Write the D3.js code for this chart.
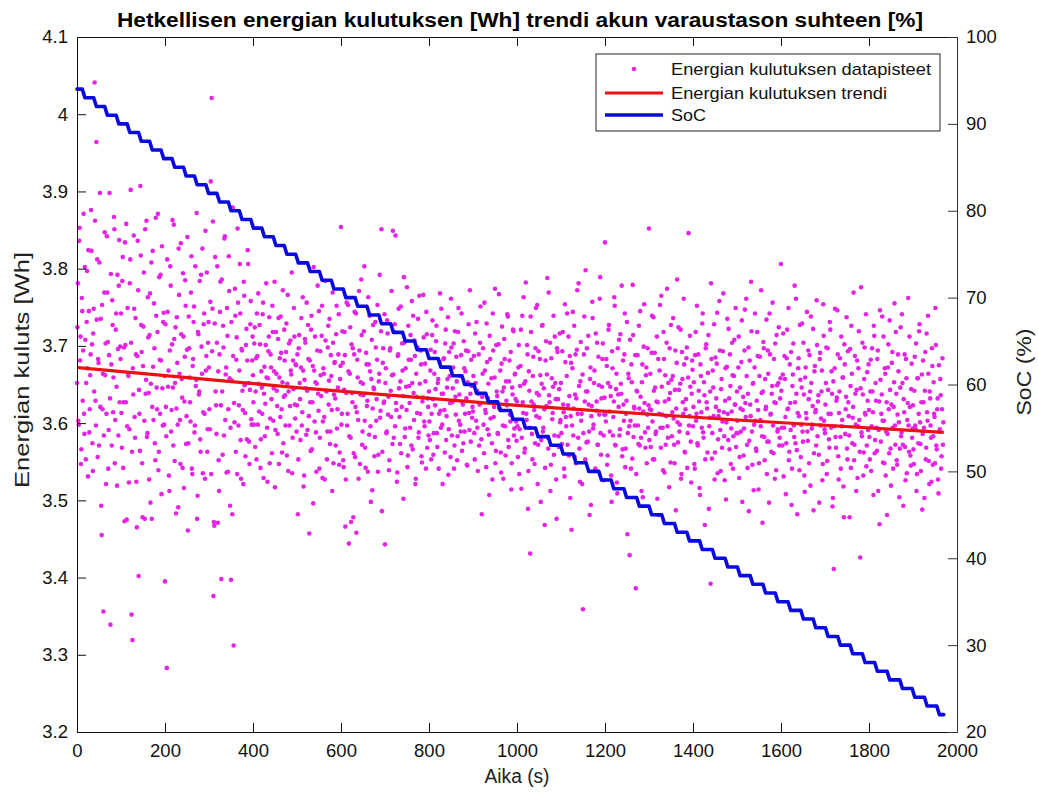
<!DOCTYPE html>
<html><head><meta charset="utf-8">
<script src="https://cdn.jsdelivr.net/npm/d3@7"></script>
<style>
html,body{margin:0;padding:0;background:#fff;}
svg{display:block;font-family:"Liberation Sans",Arial,Helvetica,sans-serif;}
</style></head>
<body>
<svg id="chart" width="1038" height="794"></svg>
<script>
// ---------- DATA ----------
const titleText = "Hetkellisen energian kulutuksen [Wh] trendi akun varaustason suhteen [%]";
const xLabel = "Aika (s)";
const yLeftLabel = "Energian kuluts [Wh]";
const yRightLabel = "SoC (%)";
const legendLabels = ["Energian kulutuksen datapisteet", "Energian kulutuksen trendi", "SoC"];
const xTicks = [0,200,400,600,800,1000,1200,1400,1600,1800,2000];
const yLeftTicks = [3.2,3.3,3.4,3.5,3.6,3.7,3.8,3.9,4.0,4.1];
const yRightTicks = [20,30,40,50,60,70,80,90,100];

// energy samples (Wh): even seconds (t = 0,2,4,...) and odd seconds (t = 1,3,5,...)
const energyEvenSeconds = [
3.652,3.781,3.598,3.853,3.712,3.566,3.745,3.694,3.612,3.802,3.553,3.731,3.671,3.824,3.588,3.662,3.876,3.702,3.538,3.748,
4.041,3.629,3.964,3.812,3.683,3.571,3.898,3.735,3.455,3.618,3.356,3.769,3.662,3.521,3.842,3.705,3.591,3.898,3.339,3.676,
3.759,3.614,3.867,3.548,3.721,3.647,3.792,3.584,3.837,3.699,
3.742,3.568,3.815,3.627,3.473,3.701,3.858,3.596,3.664,3.523,3.781,3.902,3.352,3.319,3.637,3.748,3.581,3.689,3.465,3.836,
3.402,3.612,3.907,3.727,3.548,3.674,3.795,3.476,3.638,3.862,3.587,3.711,3.527,3.768,3.651,3.476,3.823,3.604,3.697,3.552,
3.739,3.618,3.871,3.563,3.682,3.792,3.508,3.645,3.731,3.598,
3.395,3.621,3.283,3.744,3.668,3.512,3.803,3.589,3.702,3.646,3.857,3.551,3.724,3.619,3.678,3.491,3.766,3.604,3.833,3.657,
3.542,3.712,3.628,3.785,3.573,3.695,3.461,3.738,3.659,3.602,3.816,3.534,3.683,3.751,3.597,3.648,3.872,3.506,3.715,3.641,
3.579,3.792,3.664,3.535,3.728,3.612,3.849,3.687,3.563,3.704,
3.672,3.592,3.913,4.021,3.748,3.376,3.467,3.815,3.623,3.704,3.471,3.552,3.689,3.783,3.398,3.641,3.726,3.584,3.842,3.663,
3.536,3.713,3.618,3.771,3.493,3.397,3.655,3.879,3.312,3.601,3.739,3.682,3.534,3.756,3.623,3.806,3.578,3.696,3.642,3.521,
3.765,3.613,3.701,3.579,3.824,3.652,3.547,3.728,3.605,3.681,
3.662,3.598,3.724,3.641,3.553,3.687,3.768,3.615,3.702,3.579,3.646,3.741,3.529,3.673,3.625,3.781,3.594,3.658,3.712,3.548,
3.689,3.631,3.752,3.603,3.667,3.517,3.718,3.642,3.586,3.736,3.659,3.608,3.691,3.562,3.772,3.634,3.681,3.597,3.729,3.651,
3.538,3.703,3.622,3.668,3.795,3.581,3.644,3.712,3.606,3.675,
3.623,3.482,3.697,3.652,3.578,3.736,3.614,3.668,3.532,3.709,3.645,3.756,3.591,3.683,3.457,3.627,3.721,3.566,3.674,3.802,
3.602,3.653,3.537,3.694,3.638,3.745,3.581,3.662,3.713,3.529,3.671,3.608,3.784,3.642,3.553,3.698,3.624,3.735,3.589,3.661,
3.512,3.704,3.637,3.679,3.571,3.752,3.618,3.689,3.546,3.657,
3.854,3.612,3.678,3.543,3.718,3.466,3.639,3.597,3.753,3.444,3.664,3.581,3.702,3.627,3.478,3.689,3.556,3.742,3.614,3.659,
3.528,3.694,3.637,3.786,3.572,3.651,3.719,3.603,3.542,3.676,3.629,3.763,3.585,3.667,3.498,3.708,3.619,3.646,3.557,3.731,
3.603,3.682,3.537,3.654,3.792,3.616,3.851,3.563,3.697,3.628,
3.443,3.671,3.589,3.716,3.634,3.552,3.697,3.608,3.662,3.849,3.581,3.728,3.843,3.617,3.536,3.689,3.645,3.573,3.751,3.621,
3.668,3.502,3.704,3.593,3.647,3.776,3.558,3.682,3.626,3.714,3.571,3.652,3.739,3.604,3.687,3.528,3.634,3.698,3.581,3.765,
3.612,3.676,3.549,3.633,3.711,3.596,3.654,3.744,3.568,3.621,
3.641,3.578,3.695,3.612,3.733,3.559,3.664,3.623,3.706,3.587,3.652,3.541,3.679,3.616,3.748,3.598,3.638,3.684,3.562,3.721,
3.609,3.657,3.533,3.692,3.626,3.761,3.584,3.645,3.703,3.571,3.634,3.686,3.552,3.718,3.603,3.661,3.589,3.742,3.627,3.574,
3.671,3.612,3.694,3.546,3.653,3.728,3.591,3.638,3.682,3.607,
3.615,3.687,3.553,3.652,3.731,3.594,3.638,3.571,3.704,3.626,3.482,3.664,3.598,3.756,3.617,3.543,3.679,3.632,3.585,3.713,
3.606,3.658,3.527,3.694,3.621,3.774,3.564,3.641,3.587,3.702,3.619,3.668,3.536,3.725,3.597,3.646,3.683,3.558,3.629,3.741,
3.578,3.654,3.611,3.692,3.548,3.637,3.719,3.593,3.664,3.602,
3.628,3.556,3.701,3.592,3.674,3.515,3.739,3.613,3.651,3.567,3.782,3.604,3.689,3.538,3.642,3.431,3.718,3.586,3.661,3.624,
3.547,3.697,3.609,3.753,3.572,3.636,3.683,3.498,3.651,3.727,3.594,3.618,3.542,3.706,3.663,3.581,3.769,3.627,3.512,3.684,
3.605,3.647,3.559,3.712,3.631,3.476,3.692,3.583,3.644,3.601,
3.652,3.573,3.718,3.614,3.531,3.679,3.596,3.742,3.623,3.558,3.687,3.609,3.462,3.671,3.584,3.726,3.637,3.548,3.695,3.612,
3.781,3.567,3.654,3.603,3.521,3.359,3.689,3.628,3.798,3.575,3.641,3.713,3.589,3.657,3.494,3.622,3.736,3.598,3.668,3.541,
3.616,3.704,3.572,3.649,3.761,3.587,3.632,3.683,3.526,3.611,
3.834,3.602,3.674,3.558,3.721,3.615,3.647,3.532,3.693,3.584,3.628,3.752,3.571,3.664,3.509,3.637,3.708,3.592,3.651,3.778,
3.566,3.624,3.689,3.543,3.612,3.731,3.587,3.658,3.429,3.603,3.676,3.554,3.714,3.621,3.597,3.386,3.642,3.688,3.573,3.619,
3.745,3.581,3.653,3.504,3.699,3.626,3.568,3.672,3.611,3.594,
3.852,3.618,3.569,3.691,3.602,3.737,3.553,3.646,3.589,3.712,3.627,3.481,3.668,3.594,3.765,3.611,3.539,3.683,3.628,3.572,
3.704,3.596,3.652,3.517,3.639,3.727,3.583,3.661,3.606,3.548,3.694,3.619,3.786,3.575,3.643,3.598,3.721,3.534,3.657,3.612,
3.676,3.562,3.631,3.698,3.587,3.846,3.609,3.647,3.523,3.681,
3.596,3.653,3.541,3.718,3.612,3.574,3.689,3.628,3.507,3.661,3.594,3.742,3.581,3.636,3.553,3.702,3.619,3.665,3.489,3.607,
3.392,3.683,3.587,3.646,3.728,3.562,3.621,3.677,3.535,3.609,3.758,3.591,3.644,3.568,3.693,3.614,3.526,3.671,3.601,3.735,
3.578,3.632,3.689,3.547,3.615,3.662,3.583,3.708,3.624,3.569,
3.641,3.587,3.712,3.556,3.619,3.679,3.498,3.634,3.593,3.747,3.608,3.661,3.542,3.698,3.577,3.624,3.783,3.589,3.651,3.513,
3.672,3.603,3.564,3.718,3.617,3.548,3.686,3.596,3.639,3.471,3.705,3.582,3.657,3.621,3.534,3.694,3.576,3.742,3.611,3.563,
3.648,3.597,3.683,3.528,3.626,3.714,3.589,3.652,3.571,3.632,
3.806,3.594,3.663,3.531,3.687,3.608,3.574,3.721,3.619,3.552,3.676,3.591,3.494,3.648,3.703,3.582,3.627,3.761,3.565,3.613,
3.684,3.539,3.656,3.598,3.729,3.576,3.637,3.511,3.672,3.606,3.589,3.694,3.548,3.641,3.738,3.593,3.622,3.487,3.667,3.614,
3.571,3.701,3.628,3.559,3.683,3.597,3.641,3.526,3.754,3.603,
3.587,3.652,3.534,3.697,3.612,3.568,3.721,3.594,3.638,3.503,3.411,3.671,3.582,3.629,3.746,3.557,3.613,3.684,3.541,3.596,
3.659,3.518,3.702,3.586,3.634,3.567,3.693,3.609,3.478,3.648,3.726,3.574,3.621,3.552,3.687,3.598,3.643,3.529,3.671,3.604,
3.426,3.776,3.583,3.637,3.562,3.698,3.611,3.544,3.666,3.591,
3.617,3.553,3.682,3.596,3.641,3.507,3.713,3.578,3.629,3.564,3.694,3.591,3.469,3.656,3.612,3.738,3.549,3.603,3.671,3.532,
3.627,3.586,3.702,3.561,3.643,3.519,3.678,3.594,3.621,3.755,3.572,3.638,3.546,3.689,3.601,3.567,3.724,3.588,3.652,3.493,
3.614,3.569,3.683,3.535,3.626,3.597,3.712,3.558,3.644,3.581,
3.623,3.547,3.686,3.592,3.512,3.658,3.574,3.719,3.601,3.538,3.663,3.586,3.627,3.503,3.692,3.568,3.614,3.739,3.551,3.641,
3.597,3.524,3.674,3.583,3.612,3.548,3.701,3.566,3.632,3.509,3.589,3.657,3.541,3.618,3.572
];
const energyOddSeconds = [
3.724,3.603,3.836,3.681,3.547,3.762,3.629,3.871,3.586,3.708,3.652,3.797,3.531,3.745,3.618,3.689,3.823,3.574,3.716,3.641,
3.862,3.597,3.734,3.556,3.678,3.808,3.621,3.493,3.753,3.664,3.584,3.847,3.703,3.612,3.769,3.541,3.688,3.632,3.793,3.571,
3.727,3.659,3.851,3.604,3.742,3.519,3.696,3.778,3.627,3.683,
3.613,3.784,3.542,3.698,3.834,3.627,3.475,3.749,3.661,3.592,3.812,3.704,3.563,3.671,3.843,3.608,3.736,3.524,3.687,3.772,
3.643,3.564,3.817,3.692,3.478,3.725,3.603,3.851,3.656,3.582,3.763,3.639,3.714,3.497,3.808,3.621,3.673,3.755,3.574,3.866,
3.646,3.718,3.539,3.789,3.612,3.681,3.829,3.597,3.743,3.661,
3.728,3.583,3.812,3.647,3.532,3.694,3.778,3.617,3.863,3.571,3.709,3.652,3.483,3.737,3.598,3.826,3.664,3.547,3.715,3.633,
3.794,3.516,3.686,3.752,3.609,3.841,3.574,3.697,3.627,3.769,3.541,3.674,3.731,3.588,3.803,3.656,3.476,3.718,3.637,3.784,
3.563,3.699,3.826,3.614,3.742,3.528,3.668,3.795,3.592,3.731,
3.618,3.757,3.534,3.693,3.861,3.472,3.729,3.641,3.586,3.803,3.667,3.512,3.744,3.623,3.786,3.559,3.698,3.839,3.604,3.672,
3.749,3.537,3.816,3.658,3.594,3.731,3.482,3.687,3.626,3.774,3.563,3.711,3.852,3.597,3.668,3.742,3.528,3.694,3.617,3.783,
3.649,3.557,3.722,3.681,3.806,3.576,3.643,3.758,3.598,3.712,
3.627,3.703,3.569,3.684,3.742,3.598,3.651,3.727,3.542,3.667,3.612,3.756,3.638,3.583,3.701,3.659,3.524,3.693,3.737,3.606,
3.672,3.561,3.718,3.645,3.783,3.591,3.664,3.622,3.709,3.547,3.684,3.738,3.618,3.653,3.574,3.721,3.636,3.692,3.558,3.766,
3.641,3.597,3.707,3.663,3.535,3.681,3.749,3.624,3.676,3.589,
3.689,3.553,3.714,3.631,3.672,3.597,3.763,3.518,3.656,3.704,3.585,3.642,3.727,3.609,3.681,3.564,3.739,3.627,3.496,3.668,
3.712,3.588,3.651,3.778,3.616,3.541,3.693,3.635,3.752,3.602,3.664,3.527,3.707,3.641,3.589,3.726,3.655,3.573,3.688,3.617,
3.769,3.548,3.678,3.632,3.715,3.593,3.646,3.741,3.562,3.674,
3.598,3.719,3.552,3.643,3.688,3.527,3.756,3.612,3.667,3.583,3.724,3.472,3.639,3.697,3.561,3.744,3.621,3.458,3.682,3.604,
3.771,3.547,3.653,3.714,3.589,3.636,3.803,3.568,3.691,3.622,3.537,3.676,3.739,3.596,3.657,3.513,3.727,3.644,3.582,3.698,
3.631,3.753,3.559,3.664,3.607,3.719,3.486,3.678,3.626,3.741,
3.652,3.587,3.733,3.611,3.539,3.694,3.642,3.771,3.573,3.663,3.718,3.596,3.626,3.524,3.687,3.748,3.608,3.654,3.561,3.703,
3.635,3.789,3.582,3.671,3.617,3.543,3.726,3.648,3.594,3.682,3.758,3.566,3.639,3.707,3.521,3.664,3.613,3.735,3.588,3.651,
3.694,3.557,3.628,3.766,3.602,3.677,3.541,3.715,3.632,3.584,
3.602,3.668,3.553,3.714,3.631,3.587,3.692,3.644,3.726,3.569,3.657,3.612,3.768,3.594,3.638,3.521,3.683,3.617,3.703,3.578,
3.646,3.737,3.592,3.661,3.556,3.698,3.627,3.672,3.541,3.719,3.611,3.654,3.583,3.749,3.637,3.598,3.688,3.564,3.624,3.706,
3.589,3.667,3.632,3.545,3.693,3.613,3.772,3.576,3.648,3.621,
3.661,3.587,3.716,3.603,3.642,3.538,3.689,3.624,3.751,3.579,3.634,3.697,3.561,3.668,3.613,3.729,3.592,3.651,3.507,3.683,
3.627,3.574,3.742,3.608,3.659,3.548,3.701,3.635,3.586,3.767,3.619,3.562,3.677,3.641,3.528,3.709,3.596,3.654,3.623,3.738,
3.569,3.681,3.602,3.514,3.646,3.721,3.584,3.663,3.631,3.577,
3.596,3.672,3.534,3.648,3.721,3.581,3.627,3.763,3.562,3.654,3.612,3.701,3.489,3.667,3.594,3.738,3.628,3.553,3.686,3.617,
3.574,3.749,3.639,3.521,3.693,3.607,3.662,3.578,3.726,3.589,3.645,3.468,3.681,3.622,3.788,3.567,3.636,3.704,3.546,3.658,
3.613,3.739,3.584,3.652,3.527,3.697,3.631,3.569,3.716,3.604,
3.587,3.693,3.624,3.541,3.754,3.608,3.661,3.572,3.712,3.635,3.503,3.678,3.597,3.744,3.619,3.556,3.689,3.632,3.772,3.581,
3.648,3.524,3.705,3.612,3.663,3.587,3.738,3.553,3.641,3.697,3.576,3.624,3.481,3.672,3.609,3.757,3.593,3.652,3.538,3.716,
3.628,3.572,3.686,3.611,3.789,3.559,3.647,3.703,3.584,3.633,
3.611,3.683,3.546,3.652,3.727,3.589,3.635,3.498,3.671,3.608,3.763,3.572,3.644,3.523,3.697,3.621,3.584,3.715,3.638,3.557,
3.681,3.603,3.742,3.567,3.629,3.456,3.664,3.596,3.708,3.541,3.653,3.779,3.582,3.619,3.688,3.534,3.641,3.597,3.726,3.571,
3.634,3.512,3.676,3.615,3.754,3.588,3.662,3.548,3.697,3.623,
3.578,3.664,3.617,3.739,3.553,3.642,3.691,3.586,3.628,3.502,3.683,3.612,3.753,3.568,3.647,3.594,3.718,3.536,3.662,3.609,
3.774,3.581,3.631,3.697,3.549,3.656,3.614,3.736,3.572,3.643,3.487,3.678,3.601,3.724,3.589,3.651,3.528,3.692,3.627,3.761,
3.563,3.618,3.684,3.542,3.659,3.597,3.713,3.576,3.638,3.669,
3.621,3.547,3.688,3.603,3.752,3.571,3.642,3.516,3.676,3.614,3.729,3.588,3.653,3.468,3.697,3.627,3.562,3.714,3.596,3.641,
3.781,3.554,3.668,3.609,3.527,3.685,3.632,3.743,3.579,3.616,3.694,3.538,3.657,3.602,3.768,3.583,3.629,3.501,3.673,3.612,
3.722,3.566,3.648,3.593,3.704,3.541,3.661,3.624,3.749,3.587,
3.603,3.672,3.529,3.646,3.589,3.733,3.617,3.558,3.694,3.626,3.761,3.572,3.638,3.486,3.681,3.609,3.719,3.546,3.652,3.598,
3.742,3.567,3.629,3.687,3.514,3.661,3.604,3.772,3.583,3.641,3.697,3.552,3.618,3.734,3.576,3.664,3.497,3.689,3.612,3.638,
3.756,3.561,3.627,3.703,3.539,3.649,3.592,3.724,3.581,3.658,
3.642,3.571,3.716,3.594,3.657,3.508,3.684,3.618,3.749,3.563,3.626,3.692,3.541,3.663,3.597,3.778,3.574,3.638,3.482,3.671,
3.609,3.727,3.556,3.646,3.589,3.704,3.532,3.659,3.613,3.744,3.577,3.631,3.688,3.519,3.652,3.598,3.722,3.561,3.674,3.617,
3.759,3.583,3.636,3.497,3.691,3.606,3.668,3.547,3.713,3.592,
3.624,3.698,3.551,3.643,3.579,3.731,3.612,3.667,3.492,3.654,3.596,3.748,3.568,3.633,3.689,3.527,3.641,3.582,3.712,3.604,
3.659,3.478,3.676,3.618,3.737,3.553,3.627,3.584,3.696,3.542,3.664,3.607,3.769,3.572,3.638,3.512,3.681,3.596,3.719,3.563,
3.645,3.588,3.704,3.532,3.657,3.613,3.741,3.571,3.629,3.676,
3.582,3.641,3.538,3.697,3.614,3.726,3.561,3.652,3.594,3.683,3.512,3.628,3.746,3.576,3.637,3.603,3.712,3.548,3.664,3.589,
3.481,3.672,3.618,3.733,3.567,3.624,3.692,3.541,3.653,3.597,3.718,3.552,3.611,3.667,3.504,3.646,3.583,3.741,3.572,3.631,
3.689,3.526,3.658,3.604,3.762,3.563,3.621,3.545,3.677,3.593,
3.566,3.642,3.597,3.703,3.534,3.658,3.612,3.728,3.573,3.627,3.488,3.681,3.594,3.642,3.553,3.716,3.603,3.664,3.521,3.632,
3.581,3.697,3.546,3.653,3.608,3.749,3.571,3.618,3.527,3.675,3.592,3.636,3.557,3.684,3.601
];

// fitted trend (read at a few times)
const trendTimes  = [0, 500, 1000, 1500, 1970];
const trendValues = [3.672, 3.646, 3.623, 3.604, 3.588];

// SoC staircase: time (s) at which each SoC level (%) begins
const socTimes = [0,18,44,69,95,120,146,171,197,222,248,273,299,324,350,375,401,426,452,477,
503,530,557,584,611,638,665,692,719,746,773,800,827,854,881,908,935,962,
991,1019,1048,1077,1105,1134,1163,1192,1220,1249,1278,1306,1335,1364,1392,1421,1450,1479,1507,1536,1565,1593,1622,1651,
1679,1707,1735,1763,1791,1819,1847,1876,1904,1932,1960];
const socValues = [94,93,92,91,90,89,88,87,86,85,84,83,82,81,80,79,78,77,76,75,
74,73,72,71,70,69,68,67,66,65,64,63,62,61,60,59,58,57,
56,55,54,53,52,51,50,49,48,47,46,45,44,43,42,41,40,39,38,37,36,35,34,33,
32,31,30,29,28,27,26,25,24,23,22];
const socEndTime = 1970;

// ---------- DRAWING ----------
const svg = d3.select("#chart");
const L = 77, R = 957, T = 37, B = 732;
const x = d3.scaleLinear().domain([0, 2000]).range([L, R]);
const yL = d3.scaleLinear().domain([3.2, 4.1]).range([B, T]);
const yR = d3.scaleLinear().domain([20, 100]).range([B, T]);

const font = '"Liberation Sans",Arial,Helvetica,sans-serif';
const tickLen = 9;
const dotColor = "#e426e4", redColor = "#ee1111", blueColor = "#0a0ae0";

svg.append("rect").attr("x", 0).attr("y", 0).attr("width", 1038).attr("height", 794).attr("fill", "#fff");

// scatter
const pts = energyEvenSeconds.map((v, i) => ({ t: 2 * i, v }))
  .concat(energyOddSeconds.map((v, i) => ({ t: 2 * i + 1, v })));
svg.append("g").selectAll("circle").data(pts).join("circle")
  .attr("cx", d => x(d.t)).attr("cy", d => yL(d.v)).attr("r", 2.3)
  .attr("fill", dotColor);

// trend
svg.append("path").datum(trendTimes.map((t, i) => [t, trendValues[i]]))
  .attr("fill", "none").attr("stroke", redColor).attr("stroke-width", 3.2)
  .attr("d", d3.line().x(d => x(d[0])).y(d => yL(d[1])).curve(d3.curveMonotoneX));

// SoC staircase with short sloped drops
const rampSeconds = 6;
const socPts = [];
socTimes.forEach((t, i) => {
  socPts.push([t, socValues[i]]);
  const next = i < socTimes.length - 1 ? socTimes[i + 1] - rampSeconds : socEndTime;
  socPts.push([next, socValues[i]]);
});
svg.append("path").datum(socPts)
  .attr("fill", "none").attr("stroke", blueColor).attr("stroke-width", 3.6)
  .attr("stroke-linejoin", "round").attr("stroke-linecap", "round")
  .attr("d", d3.line().x(d => x(d[0])).y(d => yR(d[1])));

// axes (MATLAB style, ticks inside)
const axisCol = "#111";
const gAx = svg.append("g");
const xb = gAx.append("g").attr("transform", `translate(0,${B})`)
  .call(d3.axisBottom(x).tickValues(xTicks).tickSize(-tickLen).tickPadding(12).tickFormat(d3.format("d")));
const xt = gAx.append("g").attr("transform", `translate(0,${T})`)
  .call(d3.axisTop(x).tickValues(xTicks).tickSize(-tickLen).tickFormat(""));
const yl = gAx.append("g").attr("transform", `translate(${L},0)`)
  .call(d3.axisLeft(yL).tickValues(yLeftTicks).tickSize(-tickLen).tickPadding(9).tickFormat(d => String(+d.toFixed(1))));
const yr = gAx.append("g").attr("transform", `translate(${R},0)`)
  .call(d3.axisRight(yR).tickValues(yRightTicks).tickSize(-tickLen).tickPadding(9).tickFormat(d3.format("d")));

[xb, xt, yl, yr].forEach(g => {
  g.select(".domain").attr("stroke", axisCol).attr("stroke-width", 1);
  g.selectAll(".tick line").attr("stroke", axisCol).attr("stroke-width", 1);
  g.selectAll(".tick text").attr("fill", "#111").attr("font-size", 18.5).attr("font-family", font);
});
yr.select(".domain").attr("stroke", "#333");
yr.selectAll(".tick line").attr("stroke", "#333");

// title & labels (textLength matches the reference text widths)
svg.append("text").attr("x", 520).attr("y", 27).attr("text-anchor", "middle")
  .attr("font-family", font).attr("font-weight", "bold").attr("font-size", 20).attr("fill", "#000")
  .attr("textLength", 806).attr("lengthAdjust", "spacingAndGlyphs")
  .text(titleText);
svg.append("text").attr("x", 517).attr("y", 783).attr("text-anchor", "middle")
  .attr("font-family", font).attr("font-size", 20).attr("fill", "#222")
  .attr("textLength", 65).attr("lengthAdjust", "spacingAndGlyphs").text(xLabel);
svg.append("text").attr("transform", `translate(29,370) rotate(-90)`).attr("text-anchor", "middle")
  .attr("font-family", font).attr("font-size", 21).attr("fill", "#222")
  .attr("textLength", 236).attr("lengthAdjust", "spacingAndGlyphs").text(yLeftLabel);
svg.append("text").attr("transform", `translate(1031,372) rotate(-90)`).attr("text-anchor", "middle")
  .attr("font-family", font).attr("font-size", 21).attr("fill", "#222")
  .attr("textLength", 87).attr("lengthAdjust", "spacingAndGlyphs").text(yRightLabel);

// legend
const lg = svg.append("g");
lg.append("rect").attr("x", 596).attr("y", 54).attr("width", 344).attr("height", 77)
  .attr("fill", "#fff").attr("stroke", "#222").attr("stroke-width", 1);
const rows = [69, 93, 115];
const legendWidths = [260, 216, 35];
lg.append("circle").attr("cx", 634).attr("cy", rows[0]).attr("r", 2.3).attr("fill", dotColor);
lg.append("line").attr("x1", 605).attr("x2", 663).attr("y1", rows[1]).attr("y2", rows[1])
  .attr("stroke", redColor).attr("stroke-width", 3.2);
lg.append("line").attr("x1", 605).attr("x2", 663).attr("y1", rows[2]).attr("y2", rows[2])
  .attr("stroke", blueColor).attr("stroke-width", 3.6);
legendLabels.forEach((s, i) => {
  lg.append("text").attr("x", 671).attr("y", rows[i] + 6).attr("font-family", font)
    .attr("font-size", 17).attr("fill", "#111")
    .attr("textLength", legendWidths[i]).attr("lengthAdjust", "spacingAndGlyphs").text(s);
});
</script>
</body></html>
